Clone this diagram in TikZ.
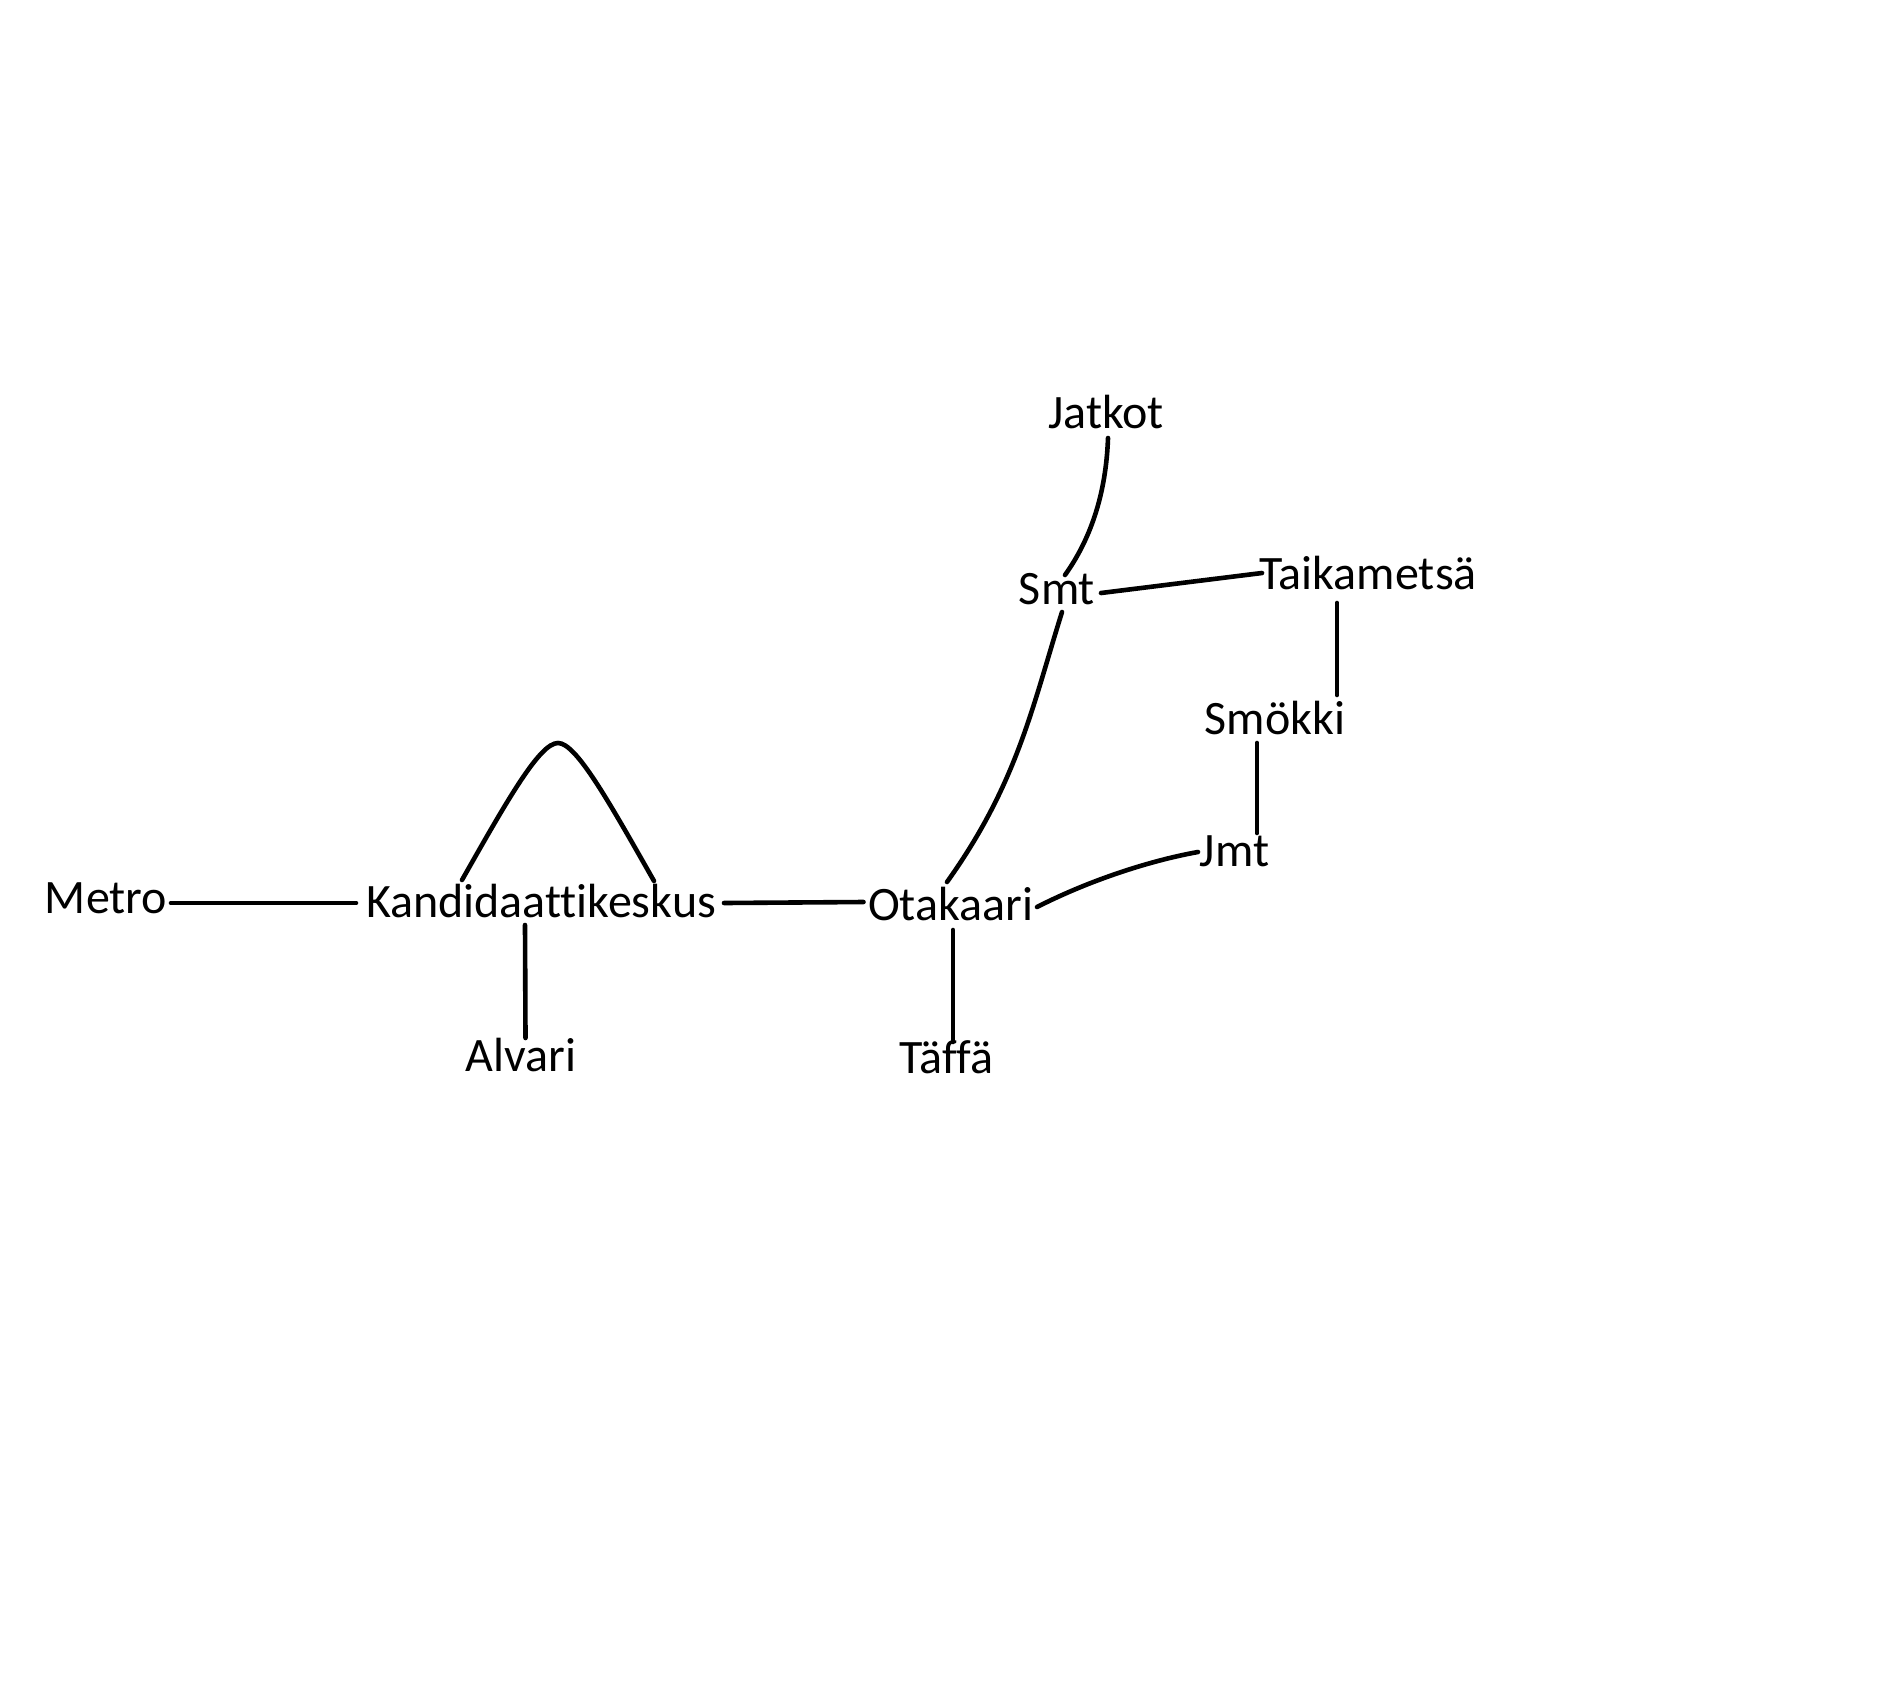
\documentclass[tikz,border=0pt]{standalone}
\usepackage{fontspec}
\setmainfont[Ligatures=NoCommon]{Carlito}
\begin{document}
\begin{tikzpicture}[x=1pt,y=-1pt,
  lbl/.style={anchor=base,inner sep=0pt,font=\fontsize{48}{58}\selectfont},
  conn/.style={line width=4.6pt,line cap=round}]
\useasboundingbox[fill=white] (0,0) rectangle (1882,1692);
\node[lbl] (metro) at (106,913) {Metro};
\node[lbl] (kandi) at (541,917) {Kandidaattikeskus};
\node[lbl] (alvari) at (521,1071) {Alvari};
\node[lbl] (ota) at (950.5,920) {Otakaari};
\node[lbl] (taffa) at (946.5,1073) {Täffä};
\node[lbl] (jmt) at (1234.5,866) {Jmt};
\node[lbl] (smokki) at (1275,734) {Smökki};
\node[lbl] (taika) at (1368,589) {Taikametsä};
\node[lbl] (smt) at (1057,604) {Smt};
\node[lbl] (jatkot) at (1106,428) {Jatkot};
% connectors
\draw[conn] ([shift={(65,-10)}]metro.base) -- ([shift={(-185,-14)}]kandi.base);
\draw[conn] ([shift={(-79,-37)}]kandi.base) .. controls +(47,-83) and +(-18,0) ..
  ([shift={(17,-174)}]kandi.base) .. controls +(18,0) and +(-46,-81) ..
  ([shift={(113,-36)}]kandi.base);
\draw[conn] ([shift={(-16,8)}]kandi.base) -- ([shift={(4.5,-33)}]alvari.base);
\draw[conn] ([shift={(183,-14)}]kandi.base) -- ([shift={(-87,-18)}]ota.base);
\draw[conn] ([shift={(2.5,10)}]ota.base) -- ([shift={(6.5,-31)}]taffa.base);
\draw[conn] ([shift={(86.5,-13)}]ota.base) .. controls +(55,-28) and +(-45,8) .. ([shift={(-36.5,-14)}]jmt.base);
\draw[conn] ([shift={(-18,9)}]smokki.base) -- ([shift={(22.5,-33)}]jmt.base);
\draw[conn] ([shift={(-31,14)}]taika.base) -- ([shift={(62,-39)}]smokki.base);
\draw[conn] ([shift={(44,-11)}]smt.base) -- ([shift={(-106,-16)}]taika.base);
\draw[conn] ([shift={(5,8)}]smt.base) .. controls +(-30,96) and +(70,-98) .. ([shift={(-3.5,-38)}]ota.base);
\draw[conn] ([shift={(2,10)}]jatkot.base) .. controls +(-2,57) and +(25,-35) .. ([shift={(8,-29)}]smt.base);
\end{tikzpicture}
\end{document}
